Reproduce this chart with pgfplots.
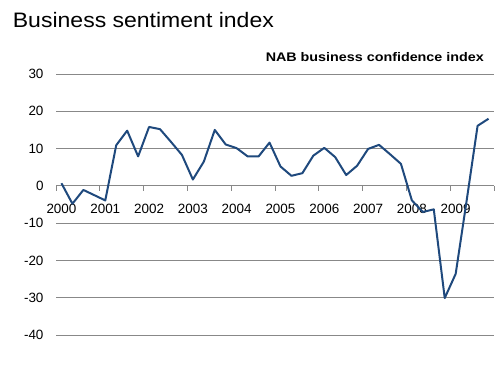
\documentclass[border=0pt]{standalone}
\usepackage{pgfplots}
\pgfplotsset{compat=1.18}
\usepackage{fontspec}
\setmainfont{Liberation Sans}
\newfontfamily\titlefont[FakeStretch=1.1]{Liberation Sans}
\newfontfamily\subtitlefont[FakeStretch=1.15]{Liberation Sans}

\definecolor{seriesblue}{RGB}{31,73,125}
\definecolor{gridgray}{RGB}{136,136,136}

% NAB business confidence index, quarterly, 2000 Q1 -- 2009 Q4
\pgfplotstableread{
q  val
0  0.7
1  -4.8
2  -1.1
3  -2.5
4  -3.9
5  10.9
6  14.8
7  7.9
8  15.8
9  15.2
10 11.8
11 8.3
12 1.7
13 6.5
14 15.0
15 11.1
16 10.1
17 7.9
18 7.9
19 11.6
20 5.2
21 2.7
22 3.4
23 8.1
24 10.2
25 7.7
26 2.9
27 5.4
28 9.9
29 11.0
30 8.5
31 5.9
32 -3.9
33 -7.0
34 -6.3
35 -30.1
36 -23.6
37 -4.0
38 16.1
39 18.0
}\nabdata

\begin{document}
\begin{tikzpicture}
\path[use as bounding box] (0,0) rectangle (503bp,365bp);

\node[anchor=base west, inner sep=0pt, font=\titlefont\fontsize{21}{25}\selectfont]
  at (12.7bp,337.7bp) {Business sentiment index};
\node[anchor=base east, inner sep=0pt, font=\subtitlefont\fontsize{12.5}{15}\selectfont\bfseries]
  at (484bp,303.3bp) {NAB business confidence index};

\begin{axis}[
  at={(56bp,30bp)}, anchor=south west,
  scale only axis, width=438bp, height=261bp,
  xmin=-0.5, xmax=39.5, ymin=-40, ymax=30,
  axis x line=middle, axis y line=left,
  x axis line style={draw=gridgray, line width=0.9bp, -},
  y axis line style={draw=none},
  hide obscured y ticks=false,
  hide obscured x ticks=false,
  ytick={-40,-30,...,30},
  yticklabels={-40,-30,-20,-10,0,10,20,30},
  xtick={0,4,...,36},
  xticklabels={2000,2001,2002,2003,2004,2005,2006,2007,2008,2009},
  major tick length=0pt,
  tick style={draw=none},
  ymajorgrids, grid style={draw=gridgray, line width=0.9bp},
  ticklabel style={font=\fontsize{13.5}{16}\selectfont},
  yticklabel style={anchor=east, xshift=-9bp},
  xticklabel style={anchor=north, yshift=-14.5bp},
  clip=false,
]
% year separators hanging below the zero line
\pgfplotsinvokeforeach{-0.5,3.5,7.5,11.5,15.5,19.5,23.5,27.5,31.5,35.5,39.5}{
  \draw[gridgray, line width=1bp] (axis cs:#1,0) -- (axis cs:#1,-1.4);
}
\addplot[seriesblue, line width=2bp, line join=round] table[x=q, y=val] {\nabdata};
\end{axis}
\end{tikzpicture}
\end{document}
